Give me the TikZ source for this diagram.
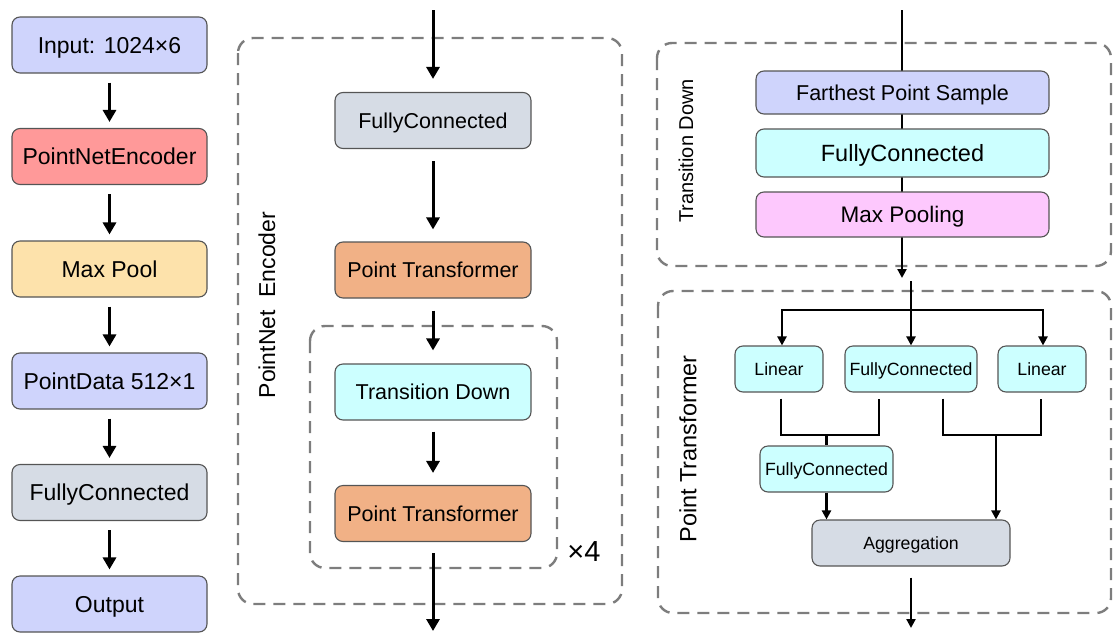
\documentclass[tikz,border=0pt]{standalone}
\usepackage{fontspec}
\setmainfont{Liberation Sans}
\usetikzlibrary{arrows.meta,calc,backgrounds}
\definecolor{cLav}{RGB}{207,212,252}
\definecolor{cRed}{RGB}{255,153,153}
\definecolor{cSand}{RGB}{253,226,171}
\definecolor{cGray}{RGB}{214,220,229}
\definecolor{cOrange}{RGB}{241,177,134}
\definecolor{cCyan}{RGB}{204,255,255}
\definecolor{cPink}{RGB}{253,200,253}
\definecolor{cBorder}{RGB}{85,85,85}
\definecolor{cDash}{RGB}{125,125,125}
\tikzset{
  fs/.code={%
    \pgfmathsetmacro\fsH{0.93*#1}%
    \pgfmathsetmacro\fsD{0.21*#1}%
    \edef\fsTmp{\noexpand\tikzset{font=\noexpand\fontsize{#1}{#1}\noexpand\selectfont,
        text height=\fsH pt, text depth=\fsD pt}}%
    \fsTmp}
}
\begin{document}
\begin{tikzpicture}[x=1pt,y=-1pt,
  box/.style={draw=cBorder, line width=1.1pt, rounded corners=8pt, inner sep=0pt, align=center},
  groupbox/.style={draw=cDash, line width=2.4pt, dash pattern=on 12pt off 8pt, rounded corners=15pt},
  arrB/.style={line width=3pt, -{Triangle[length=12pt,width=13pt]}},
  arrR/.style={line width=2.3pt, -{Triangle[length=9pt,width=9pt]}},
  lineR/.style={line width=2.3pt},
  lbl/.style={rotate=90, inner sep=0pt}
]
\useasboundingbox (0,0) rectangle (1113,632);

% ---------- left column ----------
\begin{scope}[every node/.style={box, minimum width=195pt, minimum height=56pt, fs=23}]
\node[fill=cLav]    (in)  at (109.5,45)  {Input: 1024×6};
\node[fill=cRed]    (pne) at (109.5,156.5) {PointNetEncoder};
\node[fill=cSand]   (mp)  at (109.5,269) {Max Pool};
\node[fill=cLav]    (pd)  at (109.5,381) {PointData 512×1};
\node[fill=cGray]   (fcL) at (109.5,492.5) {FullyConnected};
\node[fill=cLav]    (out) at (109.5,604) {Output};
\end{scope}
\foreach \a/\b in {in/pne, pne/mp, mp/pd, pd/fcL, fcL/out}
  \draw[arrB] ($(\a.south)+(0,9)$) -- ($(\b.north)+(0,-6)$);

% ---------- middle panel ----------
\draw[groupbox] (238,38) rectangle (622,604);
\draw[groupbox] (310,326) rectangle (557,568);
\node[lbl, font=\fontsize{23}{23}\selectfont] (lblPNE) at (267,305) {PointNet\hspace{0.55em}Encoder};
\node[font=\fontsize{29}{29}\selectfont, inner sep=0pt] (x4) at (584,552) {×4};
\begin{scope}[every node/.style={box, minimum width=196pt, minimum height=56pt, fs=21.5}]
\node[fill=cGray]   (fcM) at (433,120.5) {FullyConnected};
\node[fill=cOrange] (pt1) at (433,270) {Point Transformer};
\node[fill=cCyan]   (td)  at (433,392) {Transition Down};
\node[fill=cOrange] (pt2) at (433,513.5) {Point Transformer};
\end{scope}
\coordinate (mTop) at (433,10);
\coordinate (mBot) at (433,631);
\draw[arrB] (mTop) -- ($(fcM.north)+(0,-13)$);
\draw[arrB] ($(fcM.south)+(0,12)$) -- ($(pt1.north)+(0,-12)$);
\draw[arrB] ($(pt1.south)+(0,12)$) -- ($(td.north)+(0,-13)$);
\draw[arrB] ($(td.south)+(0,11)$) -- ($(pt2.north)+(0,-12)$);
\draw[arrB] ($(pt2.south)+(0,11)$) -- (mBot);

% ---------- right top: Transition Down ----------
\node[lbl, font=\fontsize{20}{20}\selectfont] (lblTD) at (686,151) {Transition Down};
\begin{scope}[every node/.style={box, minimum width=293pt}]
\node[fill=cLav,  minimum height=43pt, fs=21.5] (fps) at (902.5,92.5)  {Farthest Point Sample};
\node[fill=cCyan, minimum height=48pt, fs=23.5] (fcT) at (902.5,153)   {FullyConnected};
\node[fill=cPink, minimum height=45pt, fs=22.5] (mpT) at (902.5,214.5) {Max Pooling};
\end{scope}
\coordinate (tdTop) at (902,10);
\coordinate (tdBot) at (902,278);
\begin{scope}[on background layer]
\draw[groupbox] (657,43) rectangle (1111,266);
\draw[groupbox] (658,291) rectangle (1111,613);
\draw[arrR] (tdTop) -- (tdBot);
\end{scope}

% ---------- right bottom: Point Transformer ----------
\node[lbl, font=\fontsize{23.5}{23.5}\selectfont] (lblPT) at (688,449) {Point Transformer};
\begin{scope}[every node/.style={box, minimum height=46pt, fs=17.7}]
\node[fill=cCyan, minimum width=88pt]  (lin1) at (779,369)   {Linear};
\node[fill=cCyan, minimum width=132pt] (fcA)  at (911,369)   {FullyConnected};
\node[fill=cCyan, minimum width=88pt]  (lin2) at (1042,369)  {Linear};
\node[fill=cCyan, minimum width=133pt] (fc2)  at (826.5,469) {FullyConnected};
\node[fill=cGray, minimum width=198pt] (agg)  at (911,543)   {Aggregation};
\end{scope}
\coordinate (ptIn)  at (911,281);
\coordinate (br)    at (911,310);
\coordinate (ptOut) at (911,628);
\coordinate (j1) at (826.5,435);
\coordinate (j2) at (996,435);
\draw[arrR] (ptIn) -- (fcA.north);
\draw[arrR] (br) -| ($(lin1.north)+(3,0)$);
\draw[arrR] (br) -| ($(lin2.north)+(1,0)$);
\draw[lineR] ($(lin1.south)+(2,6)$) |- (j1) -| ($(fcA.south)+(-32,6)$);
\draw[lineR] (j1) -- (fc2.north);
\draw[lineR] ($(fcA.south)+(32,6)$) |- (j2) -| ($(lin2.south)+(-1,6)$);
\draw[arrR] (j2) -- (j2 |- agg.north);
\draw[arrR] (fc2.south) -- (fc2.south |- agg.north);
\draw[arrR] ($(agg.south)+(0,11)$) -- (ptOut);
\end{tikzpicture}
\end{document}
